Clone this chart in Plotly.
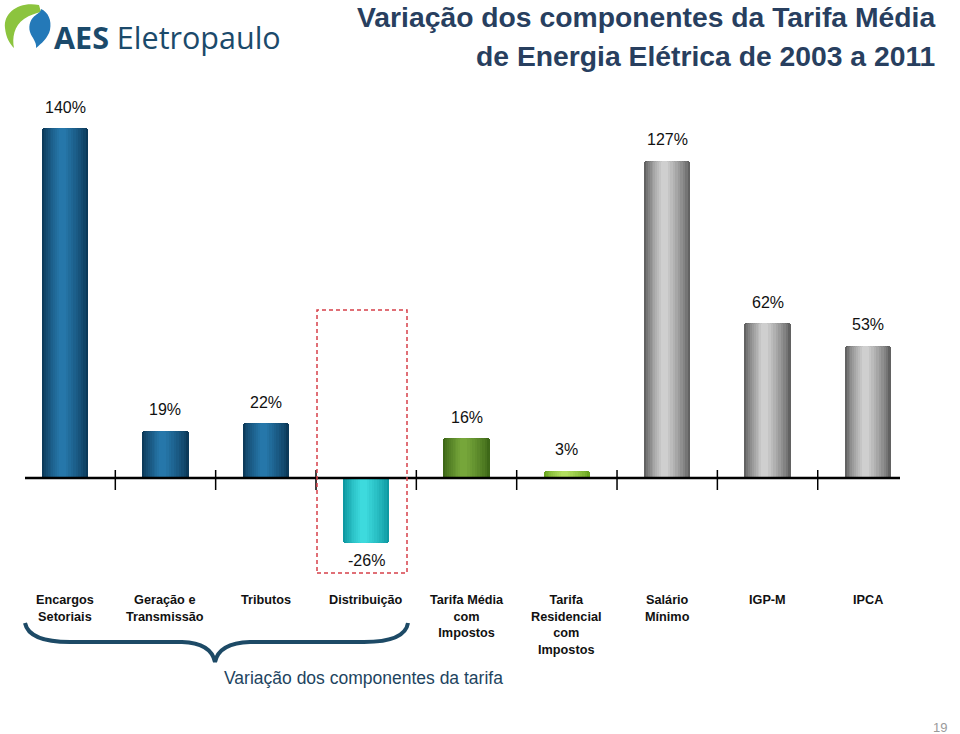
import plotly.graph_objects as go

# ---------------- data ----------------
categories = ["Encargos<br>Setoriais", "Geração e<br>Transmissão", "Tributos", "Distribuição",
              "Tarifa Média<br>com<br>Impostos", "Tarifa<br>Residencial<br>com<br>Impostos",
              "Salário<br>Mínimo", "IGP-M", "IPCA"]
values = [140, 19, 22, -26, 16, 3, 127, 62, 53]
value_labels = ["140%", "19%", "22%", "-26%", "16%", "3%", "127%", "62%", "53%"]

# ---------------- styles ----------------
edge_colors = ["#0c3a5a", "#0c3a5a", "#0c3a5a", "#0e99a2", "#3e6818", "#6aa620", "#626262", "#626262", "#626262"]
center_colors = ["#2677aa", "#2677aa", "#2677aa", "#3ddadd", "#76a63a", "#b2de5e", "#cfcfcf", "#cfcfcf", "#cfcfcf"]
FONT = "Liberation Sans, Arial, Helvetica, sans-serif"

W, H = 960, 734
L, R, T, B = 25, 900, 90, 585  # plot area in page pixels


def px_x(px):
    return (px - L) / (R - L)


def px_y(py):
    return (B - py) / (B - T)


def mix(c1, c2, t):
    a = [int(c1[i:i + 2], 16) for i in (1, 3, 5)]
    b = [int(c2[i:i + 2], 16) for i in (1, 3, 5)]
    return "#" + "".join(f"{round(a[k] + (b[k] - a[k]) * t):02x}" for k in range(3))


def path(points_cmds):
    out = []
    for tok in points_cmds:
        if isinstance(tok, str):
            out.append(tok)
        else:
            out.append(f"{px_x(tok[0]):.5f},{px_y(tok[1]):.5f}")
    return " ".join(out)


xs = list(range(len(categories)))
fig = go.Figure()

n_layers = 10
for k in range(n_layers):
    f = k / (n_layers - 1)
    w = 0.46 - f * 0.39
    t = (f ** 0.8)
    s = -0.028 * f
    fig.add_trace(go.Bar(
        x=xs, y=values, width=w, offset=-w / 2 + s,
        marker=dict(color=[mix(e, c, t) for e, c in zip(edge_colors, center_colors)],
                    line=dict(width=0), cornerradius=3),
        hoverinfo="skip", showlegend=False,
    ))

annotations = []
# value labels
for x, v, lab in zip(xs, values, value_labels):
    annotations.append(dict(x=x, y=v, xref="x", yref="y", text=lab, showarrow=False,
                            yshift=21 if v >= 0 else -17,
                            font=dict(family=FONT, size=16, color="#111111")))
# category labels
for x, c in zip(xs, categories):
    annotations.append(dict(x=x, y=px_y(591), xref="x", yref="paper", text=f"<b>{c}</b>",
                            showarrow=False, yanchor="top", align="center",
                            font=dict(family=FONT, size=12.7, color="#111111")))
# title
annotations.append(dict(x=px_x(937), y=px_y(17), xref="paper", yref="paper", xanchor="right",
                        yanchor="middle", showarrow=False,
                        text="<b>Variação dos componentes da Tarifa Média</b>",
                        font=dict(family=FONT, size=28.3, color="#283f5f")))
annotations.append(dict(x=px_x(937), y=px_y(56), xref="paper", yref="paper", xanchor="right",
                        yanchor="middle", showarrow=False,
                        text="<b>de Energia Elétrica de 2003 a 2011</b>",
                        font=dict(family=FONT, size=28.3, color="#283f5f")))
# logo text
annotations.append(dict(x=px_x(52), y=px_y(37), xref="paper", yref="paper", xanchor="left",
                        yanchor="middle", showarrow=False,
                        text="<b>AES</b> Eletropaulo",
                        font=dict(family="Open Sans, sans-serif", size=30.5, color="#1b4a6b")))
# brace caption
annotations.append(dict(x=px_x(222), y=px_y(678), xref="paper", yref="paper",
                        yanchor="middle", showarrow=False,
                        text="Variação dos componentes da tarifa",
                        font=dict(family=FONT, size=17.5, color="#1d4460")))
# page number
annotations.append(dict(x=px_x(949), y=px_y(727), xref="paper", yref="paper",
                        yanchor="middle", showarrow=False, text="19",
                        font=dict(family=FONT, size=13, color="#9a9a9a")))

shapes = []
# baseline
shapes.append(dict(type="line", xref="paper", yref="y", x0=0, x1=1, y0=0, y1=0,
                   line=dict(color="#000000", width=2.5), layer="above"))
# separators
for x in xs[:-1]:
    shapes.append(dict(type="line", xref="x", yref="paper", x0=x + 0.5, x1=x + 0.5,
                       y0=px_y(490), y1=px_y(470), line=dict(color="#000000", width=1.5)))
# red dashed highlight box
shapes.append(dict(type="rect", xref="paper", yref="paper",
                   x0=px_x(317), x1=px_x(407), y0=px_y(573), y1=px_y(310),
                   line=dict(color="#d6404a", width=1.5, dash="4px,3px")))
# curly brace
shapes.append(dict(type="path", xref="paper", yref="paper",
                   path=path(["M", (25, 623), "Q", (29, 642), (70, 642), "L", (182, 642),
                              "Q", (211, 643), (215, 662), "Q", (219, 643), (250, 642),
                              "L", (364, 642), "Q", (405, 642), (408, 623)]),
                   line=dict(color="#1d4a66", width=4)))
# logo icon
shapes.append(dict(type="path", xref="paper", yref="paper",
                   path=path(["M", (39, 5), "C", (20, 1), (3, 12), (5, 28), "C", (6, 38), (10, 44), (14, 48),
                              "C", (12, 38), (14, 26), (24, 19), "C", (30, 15), (36, 13), (41, 12), "Z"]),
                   fillcolor="#8cc43e", line=dict(width=0)))
shapes.append(dict(type="path", xref="paper", yref="paper",
                   path=path(["M", (41, 9), "C", (48, 12), (52, 20), (50, 30), "C", (48, 38), (41, 44), (36, 48),
                              "C", (37, 42), (32, 38), (30, 32), "C", (28, 25), (31, 18), (36, 15),
                              "C", (38, 13), (41, 12), (41, 9), "Z"]),
                   fillcolor="#2479b8", line=dict(width=0)))

fig.update_layout(
    width=W, height=H,
    margin=dict(l=L, r=W - R, t=T, b=H - B, pad=0),
    paper_bgcolor="#ffffff", plot_bgcolor="#ffffff",
    barmode="overlay", bargap=0,
    xaxis=dict(visible=False, range=[-0.4, 8.32], fixedrange=True),
    yaxis=dict(visible=False, range=[-42.8, 155.2], fixedrange=True),
    annotations=annotations, shapes=shapes,
    font=dict(family=FONT),
)

fig.write_html("out.html", config={"displayModeBar": False},
               post_script="document.body.style.margin='0';document.body.style.overflow='hidden';")
